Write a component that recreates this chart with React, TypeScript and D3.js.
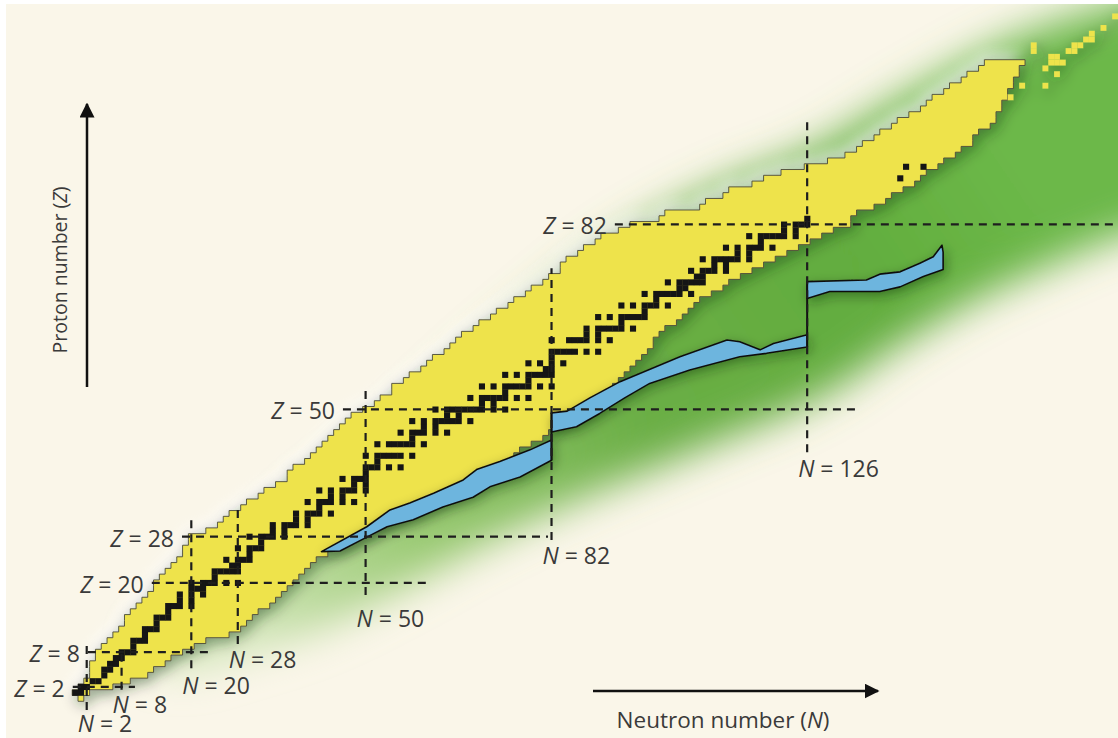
import React from "react";
import * as d3 from "d3";

const W = 1118;
const H = 738;

// ---------- data (N = neutron number, Z = proton number) ----------
const magicN = [2, 8, 20, 28, 50, 82, 126];
const magicNLineZFrom = [-2, 1.5, 5.2, 9.4, 17.9, 27.4, 42.6];
const magicNLineZTo = [9.2, 8.3, 30.9, 32.6, 54.2, 74.4, 100.5];
const magicNLabelZ = [-4.2, -1.0, 2.3, 6.9, 13.9, 24.8, 39.9];

const magicZ = [2, 8, 20, 28, 50, 82];
const magicZLineNFrom = [-0.4, 2.2, 13.2, 18.4, 46.1, 92.9];
const magicZLineNTo = [10.3, 23.7, 61.1, 81.4, 134.8, 181];

// known nuclides: rows Z = 0..110, min and max neutron number
const knownZ = d3.range(0, 111);
const knownNmin = [
  1, 0, 1, 2, 3, 3, 3, 4, 4, 5, 6, 7, 8, 9, 9, 10, 11, 12, 13, 14,
  14, 15, 16, 17, 18, 19, 19, 20, 20, 23, 25, 26, 27, 29, 30, 32, 33, 35, 37, 37,
  38, 40, 41, 42, 43, 44, 45, 46, 47, 48, 50, 52, 53, 55, 55, 57, 58, 60, 61, 62,
  64, 65, 66, 67, 69, 70, 72, 73, 75, 76, 78, 79, 81, 82, 84, 84, 85, 87, 88, 90,
  91, 94, 96, 101, 102, 108, 109, 112, 113, 117, 119, 122, 126, 130, 133, 135, 136, 138, 139, 141,
  142, 144, 146, 147, 148, 150, 151, 153, 154, 156, 157,
];
const knownNmax = [
  1, 2, 6, 9, 12, 13, 15, 16, 18, 20, 22, 26, 28, 29, 30, 31, 33, 34, 35, 36,
  37, 38, 39, 40, 41, 43, 45, 47, 49, 51, 53, 55, 57, 59, 61, 63, 65, 66, 69, 70,
  72, 74, 75, 76, 78, 80, 81, 82, 83, 85, 86, 88, 89, 91, 92, 93, 94, 95, 96, 97,
  98, 99, 99, 100, 101, 103, 104, 105, 106, 107, 109, 111, 112, 114, 116, 118, 120, 122, 124, 126,
  128, 130, 133, 133, 134, 137, 139, 140, 142, 144, 145, 146, 148, 149, 151, 152, 154, 154, 155, 157,
  158, 158, 159, 159, 160, 160, 161, 161, 162, 162, 163,
];

// isolated superheavy nuclides
const superN = [161, 163, 167, 167, 169, 165, 165, 168, 169, 168, 169, 170, 171, 172, 172, 173, 174, 175, 175, 177, 179];
const superZ = [104, 106, 106, 109, 108, 112, 113, 110, 110, 111, 111, 110, 112, 112, 113, 113, 114, 114, 115, 116, 118];

// stable nuclides: [Z, stable N values]
const stableNuclides: [number, number[]][] = [
  [1, [0, 1]], [2, [1, 2]], [3, [3, 4]], [4, [5]], [5, [5, 6]], [6, [6, 7]], [7, [7, 8]],
  [8, [8, 9, 10]], [9, [10]], [10, [10, 11, 12]], [11, [12]], [12, [12, 13, 14]], [13, [14]],
  [14, [14, 15, 16]], [15, [16]], [16, [16, 17, 18, 20]], [17, [18, 20]], [18, [18, 20, 22]],
  [19, [20, 21, 22]], [20, [20, 22, 23, 24, 26, 28]], [21, [24]], [22, [24, 25, 26, 27, 28]],
  [23, [27, 28]], [24, [26, 28, 29, 30]], [25, [30]], [26, [28, 30, 31, 32]], [27, [32]],
  [28, [30, 32, 33, 34, 36]], [29, [34, 36]], [30, [34, 36, 37, 38, 40]], [31, [38, 40]],
  [32, [38, 40, 41, 42, 44]], [33, [42]], [34, [40, 42, 43, 44, 46, 48]], [35, [44, 46]],
  [36, [42, 44, 46, 47, 48, 50]], [37, [48, 50]], [38, [46, 48, 49, 50]], [39, [50]],
  [40, [50, 51, 52, 54, 56]], [41, [52]], [42, [50, 52, 53, 54, 55, 56, 58]],
  [44, [52, 54, 55, 56, 57, 58, 60]], [45, [58]], [46, [56, 58, 59, 60, 62, 64]], [47, [60, 62]],
  [48, [58, 60, 62, 63, 64, 65, 66, 68]], [49, [64, 66]], [50, [62, 64, 65, 66, 67, 68, 69, 70, 72, 74]],
  [51, [70, 72]], [52, [68, 70, 71, 72, 73, 74, 76, 78]], [53, [74]],
  [54, [70, 72, 74, 75, 76, 77, 78, 80, 82]], [55, [78]], [56, [74, 76, 78, 79, 80, 81, 82]],
  [57, [81, 82]], [58, [78, 80, 82, 84]], [59, [82]], [60, [82, 83, 84, 85, 86, 88, 90]],
  [62, [82, 85, 86, 87, 88, 90, 92]], [63, [88, 90]], [64, [88, 90, 91, 92, 93, 94, 96]], [65, [94]],
  [66, [90, 92, 94, 95, 96, 97, 98]], [67, [98]], [68, [94, 96, 98, 99, 100, 102]], [69, [100]],
  [70, [98, 100, 101, 102, 103, 104, 106]], [71, [104, 105]], [72, [102, 104, 105, 106, 107, 108]],
  [73, [107, 108]], [74, [106, 108, 109, 110, 112]], [75, [110, 112]],
  [76, [108, 110, 111, 112, 113, 114, 116]], [77, [114, 116]], [78, [112, 114, 116, 117, 118, 120]],
  [79, [118]], [80, [116, 118, 119, 120, 121, 122, 124]], [81, [122, 124]], [82, [122, 124, 125, 126]],
  [83, [126]], [90, [142]], [92, [143, 146]],
];

// predicted bound region (green), outline in (N, Z)
const greenN = [16, 30, 42, 58, 67, 77, 88, 100, 112, 124, 133, 140, 148, 157, 168, 180, 196, 210, 210, 182, 161, 144, 127, 112, 100, 92, 82, 68, 55, 42, 30, 20, 12];
const greenZ = [5, 8, 12, 20, 25, 30, 35, 40, 45, 50, 55, 60, 65, 70, 75, 80, 85, 90, 130, 121, 114, 105, 95, 89, 83, 78, 70, 58, 46, 36, 25, 16, 9];

// r-process path (blue), three segments: upper and lower edges in (N, Z)
const rSeg1Upper: [number, number][] = [[42.4, 25.4], [50.2, 29.7], [54.2, 32.6], [57.6, 33.8], [61.7, 35.5], [66.8, 37.8], [69.1, 39.6], [73.1, 41.0], [78.3, 43.0], [82, 44.7]];
const rSeg1Lower: [number, number][] = [[42.4, 25.4], [45.6, 25.5], [50.2, 27.9], [53.7, 29.7], [58.2, 30.9], [63.3, 33.1], [68.5, 34.8], [71.4, 36.6], [76.6, 38.3], [82, 41.2]];
const rSeg2Upper: [number, number][] = [[82, 49.4], [84.7, 49.7], [88.6, 52.0], [93.8, 54.8], [104.1, 59.1], [112.2, 62.0], [114.4, 61.7], [117.9, 60.3], [120.2, 61.4], [126, 62.9]];
const rSeg2Lower: [number, number][] = [[82, 46.1], [86.3, 47.0], [90.3, 49.3], [94.6, 52.0], [98.9, 54.5], [105.8, 56.8], [114.4, 59.1], [119.0, 59.7], [126, 60.8]];
const rSeg3Upper: [number, number][] = [[126, 72.1], [136.2, 72.4], [138.5, 73.4], [142.0, 73.8], [145.4, 75.3], [147.7, 76.4], [149.2, 78.4], [149.4, 77.2]];
const rSeg3Lower: [number, number][] = [[126, 69.2], [129.9, 70.4], [138.5, 70.4], [142.0, 71.2], [146.0, 73.0], [149.4, 74.2]];

// ---------- scales ----------
const x = d3.scaleLinear().domain([0, 100]).range([75.1, 75.1 + 581]);
const y = d3.scaleLinear().domain([0, 100]).range([698.4, 698.4 - 578]);
const cw = x(1) - x(0);
const ch = y(0) - y(1);

const FONT = "'Open Sans', 'Noto Sans', sans-serif";
const TXT = "#3a3a3a";

export default function App() {
  const line = d3.line<[number, number]>().x((d) => x(d[0])).y((d) => y(d[1]));
  const rawLine = d3.line<[number, number]>();

  // yellow outline (staircase)
  const pts: [number, number][] = [];
  knownZ.forEach((z, i) => {
    pts.push([x(knownNmax[i]) + cw / 2, y(z) + ch / 2]);
    pts.push([x(knownNmax[i]) + cw / 2, y(z) - ch / 2]);
  });
  for (let i = knownZ.length - 1; i >= 0; i--) {
    const z = knownZ[i];
    pts.push([x(knownNmin[i]) - cw / 2, y(z) - ch / 2]);
    pts.push([x(knownNmin[i]) - cw / 2, y(z) + ch / 2]);
  }
  const yellowPath = rawLine(pts) + "Z";

  const greenPts: [number, number][] = greenN.map((n, i) => [n, greenZ[i]]);
  const greenPath = d3.line<[number, number]>().x((d) => x(d[0])).y((d) => y(d[1])).curve(d3.curveCatmullRomClosed)(greenPts);

  const segs = [
    [rSeg1Upper, rSeg1Lower],
    [rSeg2Upper, rSeg2Lower],
    [rSeg3Upper, rSeg3Lower],
  ];
  const bluePaths = segs.map(([u, l]) => line([...u, ...l.slice().reverse()]) + "Z");
  const jumps = [
    [rSeg1Lower[rSeg1Lower.length - 1], rSeg2Upper[0]],
    [rSeg2Lower[rSeg2Lower.length - 1], rSeg3Upper[0]],
  ];

  const stableCells: [number, number][] = [];
  stableNuclides.forEach(([z, ns]) => ns.forEach((n) => stableCells.push([n, z])));

  return (
    <svg width={W} height={H} style={{ position: "absolute", left: 0, top: 0 }} fontFamily={FONT}>
      <defs>
        <clipPath id="panel">
          <rect x={6} y={4} width={W - 6} height={H - 4} />
        </clipPath>
        <linearGradient id="gGrad" gradientUnits="userSpaceOnUse" x1={260} y1={650} x2={1000} y2={150}>
          <stop offset="0" stopColor="#cfe4b6" />
          <stop offset="0.22" stopColor="#98c971" />
          <stop offset="0.5" stopColor="#6aae45" />
          <stop offset="0.8" stopColor="#62ad3e" />
          <stop offset="1" stopColor="#6cb848" />
        </linearGradient>
        <filter id="blurG" filterUnits="userSpaceOnUse" x={-100} y={-100} width={W + 200} height={H + 200}>
          <feGaussianBlur stdDeviation={20} />
        </filter>
        <filter id="glowW" filterUnits="userSpaceOnUse" x={-50} y={-50} width={W + 100} height={H + 100}>
          <feGaussianBlur stdDeviation={7} />
        </filter>
        <filter id="shadowY" filterUnits="userSpaceOnUse" x={-50} y={-50} width={W + 100} height={H + 100}>
          <feDropShadow dx={3} dy={4} stdDeviation={7} floodColor="#0b2a05" floodOpacity={0.45} />
        </filter>
        <filter id="shadowB" filterUnits="userSpaceOnUse" x={-50} y={-50} width={W + 100} height={H + 100}>
          <feDropShadow dx={2} dy={4} stdDeviation={6} floodColor="#0b2a05" floodOpacity={0.4} />
        </filter>
        <marker id="arrow" viewBox="0 0 10 10" refX={9} refY={5} markerWidth={6} markerHeight={6} orient="auto">
          <path d="M0,0 L10,5 L0,10 Z" fill="#111" />
        </marker>
      </defs>
      <rect x={0} y={0} width={W} height={H} fill="#ffffff" />
      <rect x={6} y={4} width={W - 6} height={H - 4} fill="#faf6e9" />

      <g clipPath="url(#panel)">
        {/* predicted region */}
        <path d={greenPath || ""} fill="url(#gGrad)" filter="url(#blurG)" />

        {/* soft light halo on the proton-rich side */}
        <path d={yellowPath} fill="#ffffff" opacity={0.75} filter="url(#glowW)" transform="translate(-5,-6)" />

        {/* known nuclides */}
        <g filter="url(#shadowY)">
          <path d={yellowPath} fill="#eee34c" stroke="#4a4a3a" strokeWidth={0.9} />
          {superN.map((n, i) => (
            <rect key={"s" + i} x={x(n) - cw / 2} y={y(superZ[i]) - ch / 2} width={cw} height={ch} fill="#eee34c" />
          ))}
        </g>

        {/* stable nuclides */}
        {stableCells.map(([n, z], i) => (
          <rect key={"b" + i} x={x(n) - cw / 2} y={y(z) - ch / 2} width={cw + 0.3} height={ch + 0.3} fill="#151515" />
        ))}

        {/* r-process path */}
        <g filter="url(#shadowB)">
          {bluePaths.map((d, i) => (
            <path key={"r" + i} d={d} fill="#6db5de" stroke="#111" strokeWidth={1.6} strokeLinejoin="round" />
          ))}
        </g>
        {jumps.map(([a, b], i) => (
          <line key={"j" + i} x1={x(a[0])} y1={y(a[1])} x2={x(b[0])} y2={y(b[1])} stroke="#111" strokeWidth={2} />
        ))}

        {/* magic number lines */}
        {magicN.map((n, i) => (
          <line key={"mn" + i} x1={x(n)} x2={x(n)} y1={y(magicNLineZFrom[i])} y2={y(magicNLineZTo[i])}
            stroke="#1e1e1e" strokeWidth={2.2} strokeDasharray="8,6" />
        ))}
        {magicZ.map((z, i) => (
          <line key={"mz" + i} y1={y(z)} y2={y(z)} x1={x(magicZLineNFrom[i])} x2={x(magicZLineNTo[i])}
            stroke="#1e1e1e" strokeWidth={2.2} strokeDasharray="8,6" />
        ))}
      </g>

      {/* labels */}
      {magicN.map((n, i) => (
        <text key={"ln" + i} x={x(n) - 9} y={y(magicNLabelZ[i])} dominantBaseline="central" fontSize={23} fill={TXT}>
          <tspan fontStyle="italic">N</tspan> = {n}
        </text>
      ))}
      {magicZ.map((z, i) => (
        <text key={"lz" + i} x={x(magicZLineNFrom[i]) - 8} y={y(z) + 1} textAnchor="end" dominantBaseline="central" fontSize={23} fill={TXT}>
          <tspan fontStyle="italic">Z</tspan> = {z}
        </text>
      ))}

      {/* axis arrows and titles */}
      <line x1={87} y1={387} x2={87} y2={104} stroke="#111" strokeWidth={2.5} markerEnd="url(#arrow)" />
      <text transform="translate(59,270) rotate(-90)" textAnchor="middle" dominantBaseline="central" fontSize={19.5} fill={TXT}>
        Proton number (<tspan fontStyle="italic">Z</tspan>)
      </text>
      <line x1={593} y1={691} x2={878} y2={691} stroke="#111" strokeWidth={2.5} markerEnd="url(#arrow)" />
      <text x={723} y={719} textAnchor="middle" dominantBaseline="central" fontSize={22.5} fill={TXT}>
        Neutron number (<tspan fontStyle="italic">N</tspan>)
      </text>
    </svg>
  );
}
